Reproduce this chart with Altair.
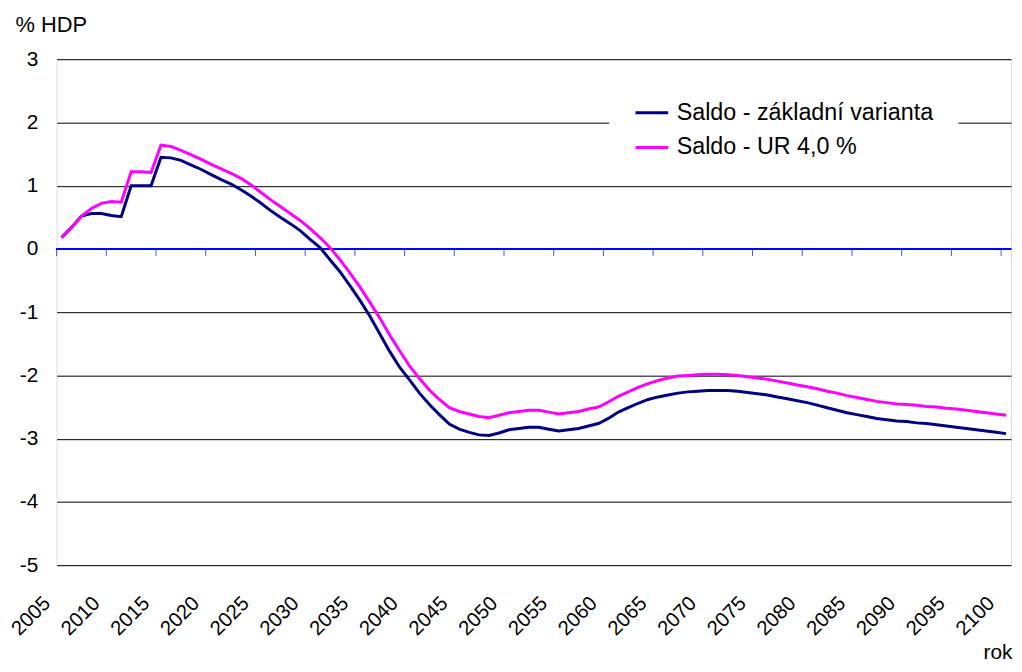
import altair as alt
import pandas as pd

# ---- data ----
years = list(range(2005, 2101))

saldo_zakladni = [
    0.18, 0.34, 0.52, 0.56, 0.56, 0.53, 0.51, 1.00, 1.00, 1.00,
    1.45, 1.44, 1.40, 1.33, 1.26, 1.18, 1.10, 1.03, 0.94, 0.84,
    0.73, 0.61, 0.50, 0.40, 0.29, 0.15, 0.02, -0.17, -0.36, -0.58,
    -0.81, -1.06, -1.34, -1.62, -1.87, -2.07, -2.28, -2.46, -2.62, -2.77,
    -2.85, -2.90, -2.94, -2.95, -2.91, -2.86, -2.84, -2.82, -2.82, -2.85,
    -2.88, -2.86, -2.84, -2.80, -2.76, -2.68, -2.58, -2.51, -2.44, -2.38,
    -2.34, -2.31, -2.28, -2.26, -2.25, -2.24, -2.24, -2.24, -2.25, -2.27,
    -2.29, -2.31, -2.34, -2.37, -2.40, -2.43, -2.47, -2.51, -2.55, -2.59,
    -2.62, -2.65, -2.68, -2.70, -2.72, -2.73, -2.75, -2.76, -2.78, -2.80,
    -2.82, -2.84, -2.86, -2.88, -2.90, -2.92,
]

saldo_ur4 = [
    0.18, 0.34, 0.52, 0.64, 0.72, 0.75, 0.74, 1.22, 1.22, 1.21,
    1.64, 1.62, 1.56, 1.49, 1.42, 1.34, 1.27, 1.20, 1.12, 1.02,
    0.90, 0.78, 0.67, 0.56, 0.45, 0.32, 0.18, 0.02, -0.17, -0.38,
    -0.60, -0.84, -1.09, -1.36, -1.61, -1.85, -2.05, -2.23, -2.38, -2.51,
    -2.57, -2.61, -2.65, -2.67, -2.63, -2.59, -2.57, -2.55, -2.55, -2.58,
    -2.61, -2.59, -2.57, -2.53, -2.50, -2.42, -2.33, -2.26, -2.19, -2.13,
    -2.08, -2.04, -2.01, -2.00, -1.99, -1.98, -1.98, -1.99, -2.00, -2.02,
    -2.04, -2.06, -2.09, -2.12, -2.15, -2.18, -2.21, -2.25, -2.28, -2.32,
    -2.35, -2.38, -2.41, -2.43, -2.45, -2.46, -2.47, -2.49, -2.50, -2.52,
    -2.53, -2.55, -2.57, -2.59, -2.61, -2.63,
]

series_names = ["Saldo - základní varianta", "Saldo - UR 4,0 %"]
series_colors = ["#000080", "#FF00FF"]
label_years = list(range(2005, 2101, 5))
tick_years = [y - 0.5 for y in label_years]   # category boundaries carrying tick marks
y_ticks = [-5, -4, -3, -2, -1, 0, 1, 2, 3]

df_base = pd.DataFrame({"rok": years, "saldo": saldo_zakladni, "serie": series_names[0]})
df_ur = pd.DataFrame({"rok": years, "saldo": saldo_ur4, "serie": series_names[1]})
df_ticks = pd.DataFrame({"rok": tick_years})

FONT = "Liberation Sans"
AXIS_BLUE = "#0000FF"

xscale = alt.Scale(domain=[2004.5, 2100.5], nice=False, zero=False)
yscale = alt.Scale(domain=[-5, 3], nice=False, zero=False)

legend = alt.Legend(
    orient="none", legendX=557, legendY=11, title=None,
    fillColor="white", padding=25,
    symbolType="stroke", symbolSize=1089, symbolStrokeWidth=3,
    labelFontSize=23.5, labelFont=FONT, labelColor="black",
    labelOffset=7, rowPadding=5, labelLimit=500,
)
color = alt.Color("serie:N", scale=alt.Scale(domain=series_names, range=series_colors), legend=legend)

yaxis = alt.Axis(
    values=y_ticks, grid=True, gridColor="black", gridWidth=1, gridOpacity=1,
    domain=False, ticks=False, labelPadding=19, labelFontSize=21, labelFont=FONT,
    labelColor="black", labelExpr="datum.value + ''",
    title="% HDP", titleAngle=0, titleAlign="left",
    titleBaseline="middle", titleX=-42, titleY=-35, titleFontSize=22,
    titleFontWeight="normal", titleFont=FONT, titleColor="black",
)

xaxis = alt.Axis(
    orient="bottom", values=label_years, format="d", labelAngle=-45,
    labelAlign="right", labelBaseline="middle", labelPadding=35, labelOffset=-15,
    labelFlush=False, labelOverlap=False, ticks=False, domain=False, grid=False,
    labelFontSize=20.5, labelFont=FONT, labelColor="black",
    title="rok", titleX=963, titleY=88, titleAlign="right", titleBaseline="middle",
    titleFontSize=21, titleFontWeight="normal", titleFont=FONT, titleColor="black",
)

xenc = alt.X("rok:Q", scale=xscale, axis=xaxis)
yenc = alt.Y("saldo:Q", scale=yscale, axis=yaxis)
y_zero = alt.YDatum(0, scale=yscale, axis=yaxis)

zero_line = alt.Chart(df_ticks).mark_rule(color=AXIS_BLUE, strokeWidth=1).encode(y=y_zero)
zero_ticks = alt.Chart(df_ticks).mark_tick(
    orient="vertical", size=7, thickness=1, yOffset=3.5, color=AXIS_BLUE
).encode(x=xenc, y=y_zero)
line_base = alt.Chart(df_base).mark_line(strokeWidth=3).encode(x=xenc, y=yenc, color=color)
line_ur = alt.Chart(df_ur).mark_line(strokeWidth=3).encode(x=xenc, y=yenc, color=color)

chart = (
    alt.layer(zero_line, zero_ticks, line_base, line_ur)
    .properties(
        width=962, height=510,
        padding={"left": 49, "top": 49, "right": 3, "bottom": 95},
        autosize=alt.AutoSizeParams(type="none"),
    )
    .configure_view(stroke=None, strokeWidth=0)
    .configure_axis(domain=False)
    .configure_axisX(grid=False)
    .configure(font=FONT, background="white")
)

chart.save("out.html", embed_options={"renderer": "svg", "actions": False})
